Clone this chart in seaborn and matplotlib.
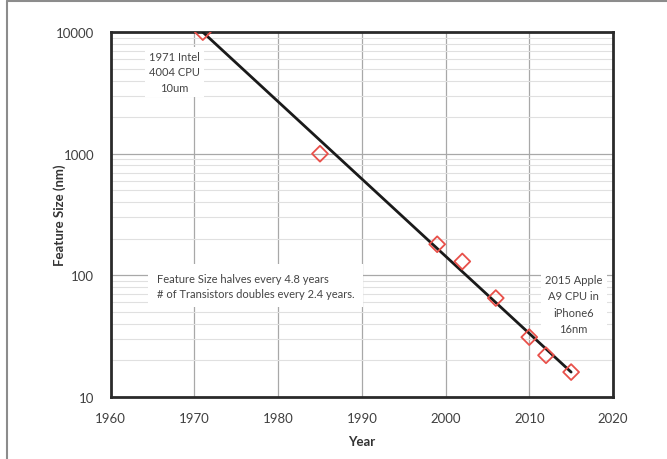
import matplotlib
matplotlib.use("Agg")
import matplotlib.pyplot as plt
import seaborn as sns
import pandas as pd
from matplotlib.ticker import LogLocator, FixedLocator, NullFormatter

# Data
years = [1971, 1985, 1999, 2002, 2006, 2010, 2012, 2015]
feature_nm = [10000, 1000, 180, 130, 65, 31, 22, 16]
trend_years = [1971, 2015]
trend_nm = [10000, 16]

x_ticks = [1960, 1970, 1980, 1990, 2000, 2010, 2020]
y_ticks = [10, 100, 1000, 10000]

sns.set_theme(style="white")
plt.rcParams['font.family'] = ['Lato', 'DejaVu Sans']

fig = plt.figure(figsize=(6.67, 4.6), dpi=100)
ax = fig.add_axes([0.166, 0.135, 0.753, 0.793])

df = pd.DataFrame({"Year": years, "nm": feature_nm})
tdf = pd.DataFrame({"Year": trend_years, "nm": trend_nm})

ax.set_yscale("log")
ax.set_xlim(1960, 2020)
ax.set_ylim(10, 10000)

sns.lineplot(data=tdf, x="Year", y="nm", ax=ax, color="#1a1a1a", linewidth=2.0, zorder=4)
sns.scatterplot(data=df, x="Year", y="nm", ax=ax, marker="D", s=65,
                facecolor="none", edgecolor="#e8504a", linewidth=1.3, zorder=5)

ax.xaxis.set_major_locator(FixedLocator(x_ticks))
ax.yaxis.set_major_locator(FixedLocator(y_ticks))
ax.set_yticklabels([str(v) for v in y_ticks])
ax.set_xticklabels([str(v) for v in x_ticks])
ax.yaxis.set_minor_locator(LogLocator(base=10, subs=range(2, 10)))
ax.yaxis.set_minor_formatter(NullFormatter())

ax.grid(True, which="major", color="#a8a8a8", linewidth=0.9, zorder=0)
ax.grid(True, which="minor", axis="y", color="#e0e0e0", linewidth=0.8, zorder=0)
ax.tick_params(axis="both", which="both", length=0, labelsize=9.5, colors="#404040")
ax.tick_params(axis="x", pad=11)
ax.tick_params(axis="y", pad=12)

for s in ax.spines.values():
    s.set_color("#2a2a2a")
    s.set_linewidth(2.0)

ax.set_xlabel("Year", fontsize=9.5, fontweight="bold", color="#333333", labelpad=8)
ax.set_ylabel("Feature Size (nm)", fontsize=9.5, fontweight="bold", color="#333333")
ax.yaxis.set_label_coords(-0.09, 0.5)

bbox = dict(facecolor="white", edgecolor="none", pad=3)
ax.text(1967.6, 4700, "1971 Intel\n4004 CPU\n10um", ha="center", va="center",
        fontsize=8, color="#444444", linespacing=1.5, bbox=bbox, zorder=3)
ax.text(1965.5, 82, "Feature Size halves every 4.8 years\n# of Transistors doubles every 2.4 years.",
        ha="left", va="center", fontsize=8, color="#444444", linespacing=1.5,
        bbox=dict(facecolor="white", edgecolor="none", pad=6), zorder=3)
ax.text(2015.3, 58, "2015 Apple\nA9 CPU in\niPhone6\n16nm", ha="center", va="center",
        fontsize=8, color="#444444", linespacing=1.6, bbox=bbox, zorder=3)

# outer frame lines (top and left) as in the reference screenshot
fig.add_artist(plt.Line2D([7/667, 1], [1 - 2/460, 1 - 2/460], color="#8c8c8c", linewidth=1.5))
fig.add_artist(plt.Line2D([7/667, 7/667], [0, 1 - 2/460], color="#8c8c8c", linewidth=1.5))

fig.savefig("out.png", dpi=100, facecolor="white")
